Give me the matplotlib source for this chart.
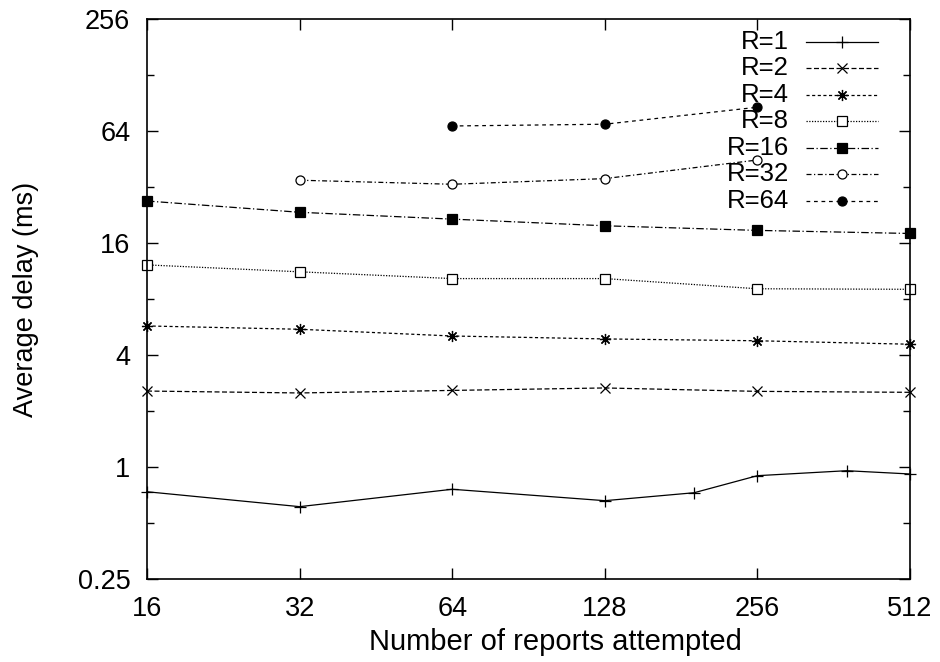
import matplotlib
matplotlib.use('Agg')
import matplotlib.pyplot as plt
from matplotlib.lines import Line2D
from matplotlib.ticker import FixedLocator, NullFormatter

plt.rcParams['font.family'] = ['Liberation Sans', 'DejaVu Sans']
plt.rcParams['font.size'] = 19.5

# data
x_r1 = [16, 32, 64, 128, 192, 256, 384, 512]
y_r1 = [0.736, 0.612, 0.759, 0.659, 0.727, 0.898, 0.955, 0.917]
x_all = [16, 32, 64, 128, 256, 512]
y_r2 = [2.56, 2.50, 2.58, 2.66, 2.55, 2.52]
y_r4 = [5.73, 5.50, 5.06, 4.88, 4.77, 4.57]
y_r8 = [12.2, 11.2, 10.3, 10.3, 9.08, 9.02]
y_r16 = [26.9, 23.4, 21.5, 19.8, 18.7, 18.0]
x_r32 = [32, 64, 128, 256]
y_r32 = [34.8, 33.1, 35.5, 44.7]
x_r64 = [64, 128, 256]
y_r64 = [68.1, 69.6, 85.9]

labels = ['R=1', 'R=2', 'R=4', 'R=8', 'R=16', 'R=32', 'R=64']
x_ticks = [16, 32, 64, 128, 256, 512]
y_ticks = [0.25, 1, 4, 16, 64, 256]
y_tick_labels = ['0.25', '1', '4', '16', '64', '256']
y_minor = [0.5, 2, 8, 32, 128]

asterisk = (8, 2, 0)
styles = [
  dict(ls='-', marker='+', ms=9, mfc='k'),
  dict(ls=(0, (4, 2)), marker='x', ms=7, mfc='k'),
  dict(ls=(0, (2.5, 2)), marker=asterisk, ms=8, mfc='k'),
  dict(ls=(0, (1, 1.2)), marker='s', ms=7, mfc='white'),
  dict(ls=(0, (6, 2, 1, 2)), marker='s', ms=7, mfc='k'),
  dict(ls=(0, (4, 2, 1, 2)), marker='o', ms=6.5, mfc='white'),
  dict(ls=(0, (3, 3)), marker='o', ms=6.5, mfc='k'),
]
series = [(x_r1, y_r1), (x_all, y_r2), (x_all, y_r4), (x_all, y_r8),
          (x_all, y_r16), (x_r32, y_r32), (x_r64, y_r64)]

fig, ax = plt.subplots(figsize=(9.4, 6.62), dpi=100)
fig.subplots_adjust(left=0.1564, right=0.9681, top=0.9713, bottom=0.1254)

for (xs, ys), st in zip(series, styles):
  ax.plot(xs, ys, color='k', lw=0.9, ls=st['ls'], marker=st['marker'],
          ms=st['ms'], mfc=st['mfc'], mec='k', mew=0.9, clip_on=False)

ax.set_xscale('log', base=2)
ax.set_yscale('log', base=2)
ax.set_xlim(16, 512)
ax.set_ylim(0.25, 256)
ax.xaxis.set_major_locator(FixedLocator(x_ticks))
ax.set_xticklabels([str(v) for v in x_ticks])
ax.xaxis.set_minor_locator(FixedLocator([]))
ax.yaxis.set_major_locator(FixedLocator(y_ticks))
ax.set_yticklabels(y_tick_labels)
ax.yaxis.set_minor_locator(FixedLocator(y_minor))
ax.yaxis.set_minor_formatter(NullFormatter())

ax.tick_params(which='both', direction='in', top=True, right=True, width=1)
ax.tick_params(which='major', length=8)
ax.tick_params(which='minor', length=5)
ax.tick_params(axis='x', pad=12)
ax.tick_params(axis='y', pad=12)
for sp in ax.spines.values():
  sp.set_linewidth(1.2)

ax.set_xlabel('Number of reports attempted', fontsize=21)
ax.set_ylabel('Average delay (ms)', fontsize=19.5)
ax.xaxis.set_label_coords(0.535, -0.0875)
ax.yaxis.set_label_coords(-0.1415, 0.5)

# gnuplot style key: text right aligned, sample to the right
key_text_x = 0.841
key_x0, key_x1 = 0.864, 0.958
key_y0, key_dy = 0.9595, 0.0473
for i, (lab, st) in enumerate(zip(labels, styles)):
  yk = key_y0 - i * key_dy
  ax.text(key_text_x, yk, lab, transform=ax.transAxes, ha='right',
          va='center', fontsize=18.5)
  ln = Line2D([key_x0, (key_x0 + key_x1) / 2, key_x1], [yk, yk, yk],
              transform=ax.transAxes, color='k', lw=0.9, ls=st['ls'],
              marker=st['marker'], ms=st['ms'], mfc=st['mfc'], mec='k',
              mew=0.9, markevery=[1])
  ax.add_line(ln)

fig.savefig('out.png', dpi=100)
